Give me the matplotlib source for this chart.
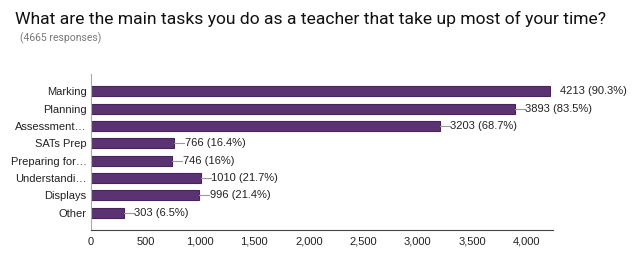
import matplotlib
matplotlib.use("Agg")
import matplotlib.pyplot as plt

categories = ["Marking", "Planning", "Assessment…", "SATs Prep", "Preparing for…",
              "Understandi…", "Displays", "Other"]
counts = [4213, 3893, 3203, 766, 746, 1010, 996, 303]
percents = ["90.3%", "83.5%", "68.7%", "16.4%", "16%", "21.7%", "21.4%", "6.5%"]
xticks = [0, 500, 1000, 1500, 2000, 2500, 3000, 3500, 4000]

BAR = "#5b3372"
EDGE = "#4a2160"

fig = plt.figure(figsize=(6.4, 2.69), dpi=100)
fig.text(0.023, 0.93, "What are the main tasks you do as a teacher that take up most of your time?",
         family="Roboto", fontsize=12.6, color="#111111", va="center")
fig.text(0.031, 0.858, "(4665 responses)", family="Roboto", fontsize=7.5,
         color="#777777", va="center")

ax = fig.add_axes((0.142, 0.145, 0.722, 0.58))
ypos = list(range(len(categories)))
ax.barh(ypos, counts, height=0.58, color=BAR, edgecolor=EDGE, linewidth=0.8)

for y, c, p in zip(ypos, counts, percents):
    # the longest bar has its label set off without a leader line
    if c != max(counts):
        ax.plot([c, c + 90], [y, y], color="#999999", lw=0.8)
    ax.text(c + 95, y, f"{c} ({p})", va="center", ha="left",
            family="Liberation Sans", fontsize=8, color="#222222")

ax.set_xlim(0, 4240)
ax.set_ylim(8, -1)
ax.set_yticks(ypos)
ax.set_yticklabels(categories, family="Liberation Sans", fontsize=8, color="#222222")
ax.set_xticks(xticks)
ax.set_xticklabels([f"{t:,}" for t in xticks], family="Liberation Sans", fontsize=8,
                   color="#222222")
ax.tick_params(length=0, pad=3)
ax.tick_params(axis="x", pad=5)

for s in ["top", "right"]:
    ax.spines[s].set_visible(False)
ax.spines["left"].set_color("#aaaaaa")
ax.spines["left"].set_linewidth(0.8)
ax.spines["bottom"].set_color("#444444")
ax.spines["bottom"].set_linewidth(0.8)

fig.savefig("out.png", dpi=100, facecolor="white")
